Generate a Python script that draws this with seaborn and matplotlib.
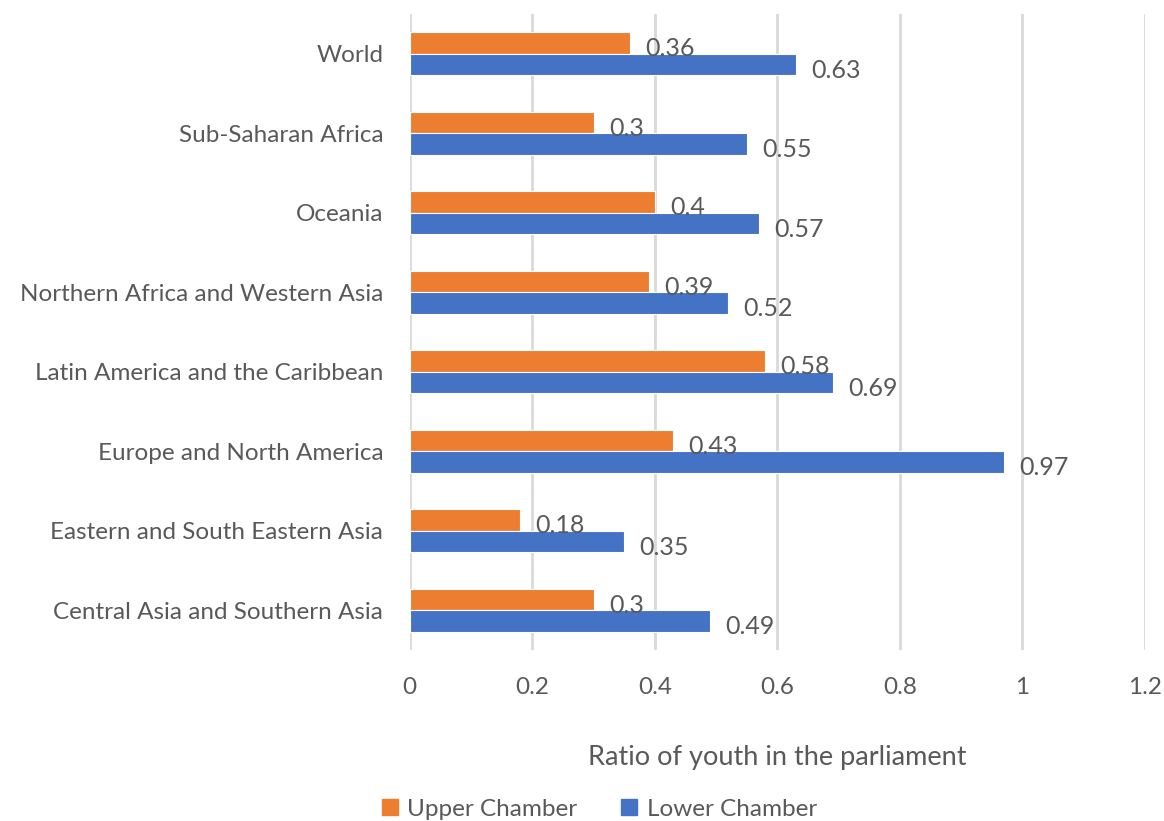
import matplotlib
matplotlib.use("Agg")
import matplotlib.pyplot as plt
import seaborn as sns
import pandas as pd

regions = ["World", "Sub-Saharan Africa", "Oceania", "Northern Africa and Western Asia",
           "Latin America and the Caribbean", "Europe and North America",
           "Eastern and South Eastern Asia", "Central Asia and Southern Asia"]
upper = [0.36, 0.3, 0.4, 0.39, 0.58, 0.43, 0.18, 0.3]
lower = [0.63, 0.55, 0.57, 0.52, 0.69, 0.97, 0.35, 0.49]
series = ["Upper Chamber", "Lower Chamber"]
colors = ["#ED7D31", "#4472C4"]
xticks = [0, 0.2, 0.4, 0.6, 0.8, 1, 1.2]
xtick_labels = ["0", "0.2", "0.4", "0.6", "0.8", "1", "1.2"]

df = pd.DataFrame({
    "Region": regions * 2,
    "Value": upper + lower,
    "Chamber": [series[0]] * len(regions) + [series[1]] * len(regions),
})

sns.set_theme(style="white")
plt.rcParams['font.family'] = ['Lato', 'DejaVu Sans']
txt = "#595959"

fig = plt.figure(figsize=(11.64, 8.21), dpi=100)
ax = fig.add_axes([0.352, 0.208, 0.6317, 0.775])

sns.barplot(data=df, y="Region", x="Value", hue="Chamber", order=regions,
            hue_order=series, palette=colors, width=0.54, ax=ax,
            edgecolor="white", linewidth=0.8, legend=False, saturation=1)

for cont in ax.containers:
    for p in cont.patches:
        w = p.get_width()
        ax.annotate(f"{w:g}", (w, p.get_y() + p.get_height() / 2),
                    xytext=(11, -4), textcoords="offset points",
                    va="center", ha="left", fontsize=18, color=txt)

ax.set_xlim(0, 1.2)
ax.set_ylim(len(regions) - 0.5, -0.5)
ax.set_xticks(xticks)
ax.set_xticklabels(xtick_labels)
ax.xaxis.grid(True, color="#d9d9d9", linewidth=2)
ax.yaxis.grid(False)
ax.set_axisbelow(True)
for s in ax.spines.values():
    s.set_visible(False)
ax.tick_params(axis="x", labelsize=17.5, colors=txt, length=0, pad=19)
ax.tick_params(axis="y", labelsize=17.5, colors=txt, length=0, pad=19)
ax.set_ylabel("")
ax.set_xlabel("Ratio of youth in the parliament", fontsize=19.5, color=txt, labelpad=34)

handles = [plt.Rectangle((0, 0), 1, 1, color=c) for c in colors]
fig.legend(handles, series, loc="lower center", bbox_to_anchor=(0.515, -0.025), ncol=2,
           frameon=False, fontsize=17.5, handlelength=0.65, handleheight=0.65,
           handletextpad=0.4, columnspacing=1.8, labelcolor=txt)

fig.savefig("out.png", dpi=100)
